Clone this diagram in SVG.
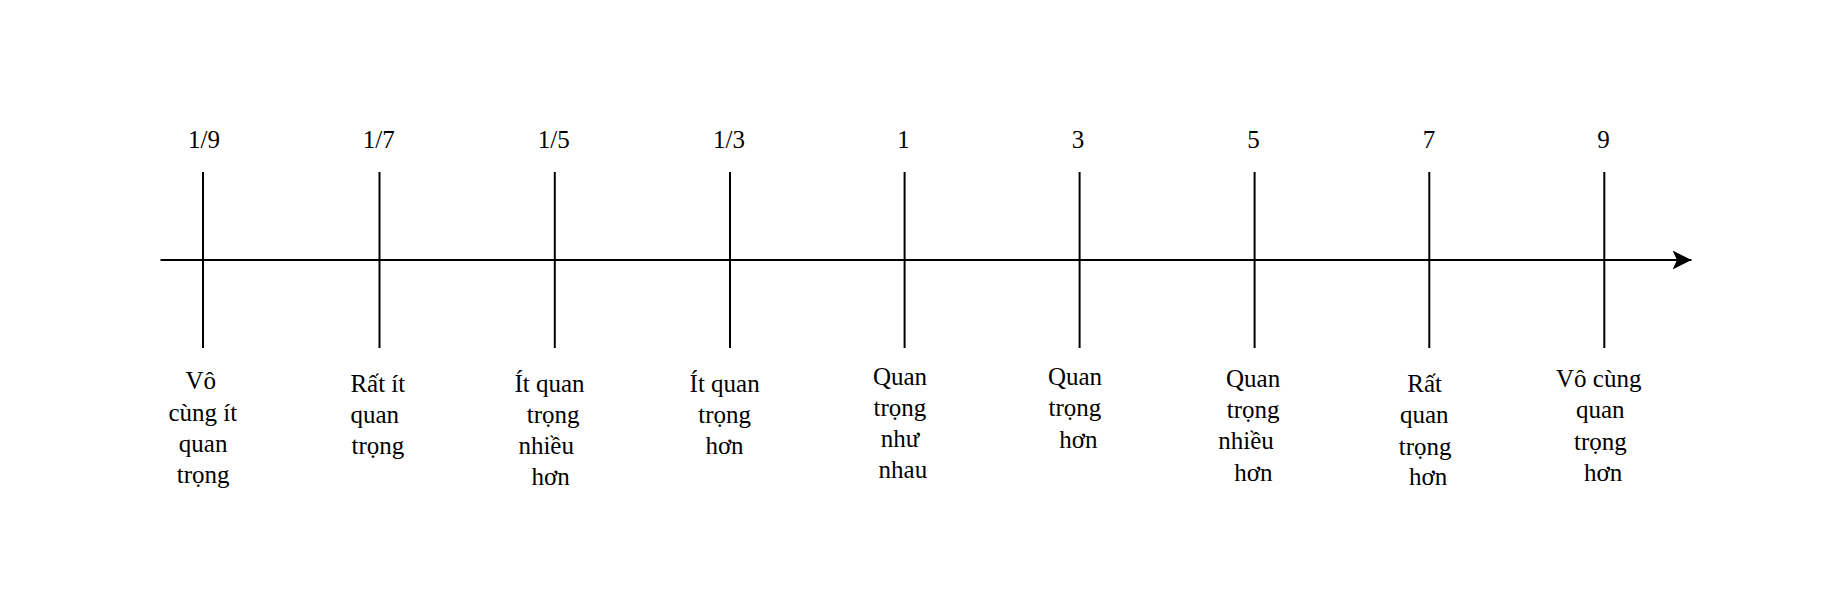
<svg xmlns="http://www.w3.org/2000/svg" width="1845" height="592" viewBox="0 0 1845 592">
<style>
  .tick { stroke: #000; stroke-width: 2; fill: none; }
  .axis { stroke: #000; stroke-width: 2; fill: none; }
  text { font-family: "Liberation Serif", "Times New Roman", serif; font-size: 25px; fill: #000; }
  .num { text-anchor: middle; }
</style>
<defs>
  <marker id="arrow" markerUnits="userSpaceOnUse" markerWidth="20" markerHeight="20" refX="19" refY="9.5" orient="auto" viewBox="0 0 20 19">
    <path d="M0,0 L19,9.5 L0,19 L4.5,9.5 Z" fill="#000"/>
  </marker>
</defs>
<rect width="1845" height="592" fill="#fff"/>
<g id="connectors">
  <line class="axis" x1="160.5" y1="260" x2="1691.5" y2="260" marker-end="url(#arrow)"/>
</g>
<g id="n-1-9">
  <line class="tick" x1="203" y1="172" x2="203" y2="348"/>
  <text class="num" x="204" y="148">1/9</text>
  <text x="185.5" y="389">Vô</text>
  <text x="168.5" y="420.5">cùng ít</text>
  <text x="178.8" y="452">quan</text>
  <text x="176.8" y="482.5">trọng</text>
</g>
<g id="n-1-7">
  <line class="tick" x1="379.5" y1="172" x2="379.5" y2="348"/>
  <text class="num" x="378.7" y="148">1/7</text>
  <text x="350.4" y="391.5">Rất ít</text>
  <text x="350.4" y="423">quan</text>
  <text x="351.5" y="453.5">trọng</text>
</g>
<g id="n-1-5">
  <line class="tick" x1="554.8" y1="172" x2="554.8" y2="348"/>
  <text class="num" x="553.8" y="148">1/5</text>
  <text x="514.5" y="391.5">Ít quan</text>
  <text x="526.7" y="422.5">trọng</text>
  <text x="518.4" y="453.5">nhiều</text>
  <text x="531.5" y="485">hơn</text>
</g>
<g id="n-1-3">
  <line class="tick" x1="730" y1="172" x2="730" y2="348"/>
  <text class="num" x="729" y="148">1/3</text>
  <text x="689.6" y="391.5">Ít quan</text>
  <text x="698.3" y="422.5">trọng</text>
  <text x="705.4" y="453.5">hơn</text>
</g>
<g id="n-1">
  <line class="tick" x1="904.6" y1="172" x2="904.6" y2="348"/>
  <text class="num" x="903.6" y="148">1</text>
  <text x="872.9" y="385">Quan</text>
  <text x="873.6" y="416">trọng</text>
  <text x="880.7" y="447.3">như</text>
  <text x="878.6" y="478.3">nhau</text>
</g>
<g id="n-3">
  <line class="tick" x1="1079.6" y1="172" x2="1079.6" y2="348"/>
  <text class="num" x="1077.9" y="148">3</text>
  <text x="1047.9" y="385">Quan</text>
  <text x="1048.6" y="416">trọng</text>
  <text x="1059.3" y="448.3">hơn</text>
</g>
<g id="n-5">
  <line class="tick" x1="1254.6" y1="172" x2="1254.6" y2="348"/>
  <text class="num" x="1253.6" y="148">5</text>
  <text x="1226" y="386.7">Quan</text>
  <text x="1226.8" y="418.3">trọng</text>
  <text x="1218.2" y="449.3">nhiều</text>
  <text x="1234.3" y="480.7">hơn</text>
</g>
<g id="n-7">
  <line class="tick" x1="1429.3" y1="172" x2="1429.3" y2="348"/>
  <text class="num" x="1429" y="148">7</text>
  <text x="1407.3" y="391.7">Rất</text>
  <text x="1400" y="423.3">quan</text>
  <text x="1398.7" y="455">trọng</text>
  <text x="1409" y="485">hơn</text>
</g>
<g id="n-9">
  <line class="tick" x1="1604.3" y1="172" x2="1604.3" y2="348"/>
  <text class="num" x="1603.5" y="148">9</text>
  <text x="1556" y="386.7">Vô cùng</text>
  <text x="1576" y="418.3">quan</text>
  <text x="1574" y="450">trọng</text>
  <text x="1584" y="480.7">hơn</text>
</g>
</svg>
